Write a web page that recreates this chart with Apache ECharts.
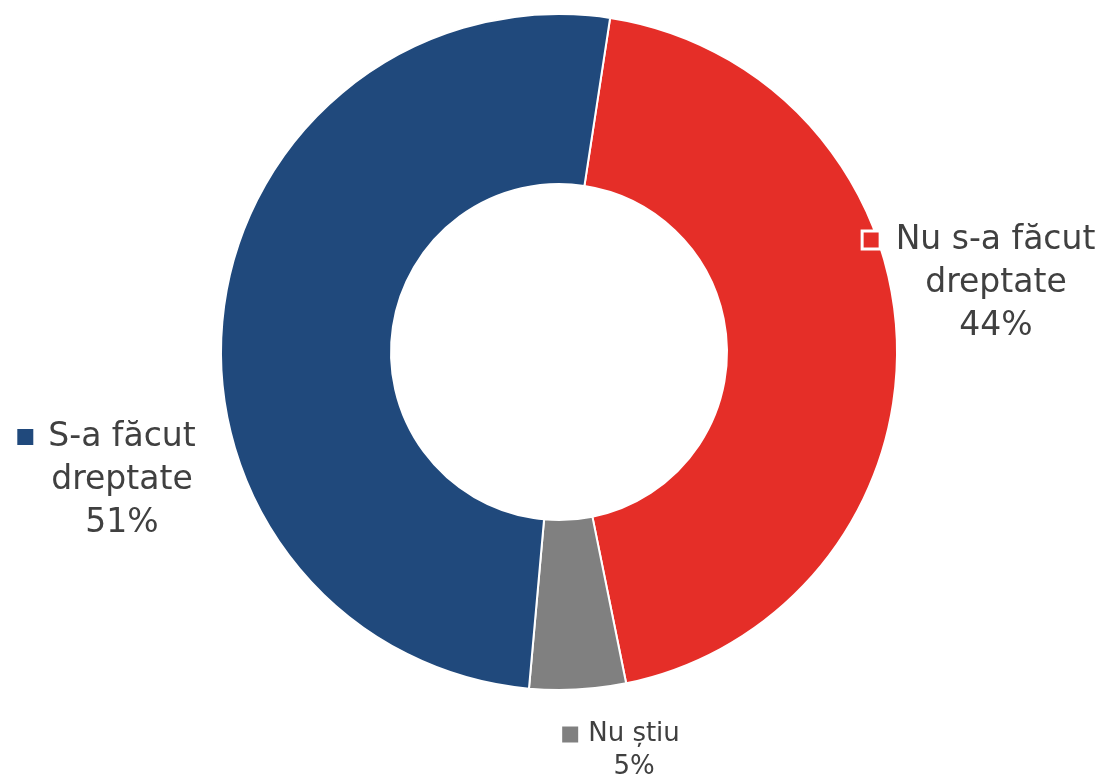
<!DOCTYPE html>
<html><head><meta charset="utf-8">
<script src="https://cdn.jsdelivr.net/npm/echarts@6/dist/echarts.min.js"></script>
<style>html,body{margin:0;padding:0;background:#fff}#c{width:1103px;height:781px}</style>
</head><body><div id="c"></div>
<script>
const categories = ['Nu s-a făcut dreptate', 'Nu știu', 'S-a făcut dreptate'];
const labelLines = [['Nu s-a făcut', 'dreptate'], ['Nu știu'], ['S-a făcut', 'dreptate']];
const values = [44.4, 4.6, 51.0];
const colors = ['#E52E28', '#808080', '#20497C'];
const labelPos = [[996, 283], [634, 751], [122, 480]];
const sizes = [33, 26, 33];
const lineH = [43, 33, 43];
const gaps = [17, 10, 15];

const chart = echarts.init(document.getElementById('c'), null, {renderer: 'canvas'});
const font = 'DejaVu Sans';
const data = categories.map((c, i) => {
  const fs = sizes[i], lh = lineH[i];
  const rich = {
    m: i === 0
      ? {width: 15, height: 15, backgroundColor: colors[i], borderColor: '#ffffff', borderWidth: 3, verticalAlign: 'middle'}
      : {width: 16, height: 16, backgroundColor: colors[i], verticalAlign: 'middle'},
    g: {width: gaps[i], height: 1},
    g2: {width: 16 + gaps[i], height: 1},
    t: {fontSize: fs, lineHeight: lh, color: '#404040', fontFamily: font}
  };
  return {
    name: c, value: values[i], itemStyle: {color: colors[i]},
    label: {rich: rich}
  };
});

chart.setOption({
  animation: false,
  series: [{
    type: 'pie',
    center: [559, 352],
    radius: [168, 338],
    startAngle: 81.3,
    clockwise: true,
    avoidLabelOverlap: false,
    itemStyle: {borderColor: '#fff', borderWidth: 2},
    label: {
      show: true,
      position: 'outside',
      align: 'center',
      formatter: p => {
        const i = p.dataIndex;
        const ls = labelLines[i];
        let s = '{m|}{g|}{t|' + ls[0] + '}{g2|}';
        for (let k = 1; k < ls.length; k++) s += '\n{t|' + ls[k] + '}';
        s += '\n{t|' + Math.round(p.value) + '%}';
        return s;
      }
    },
    labelLine: {show: false},
    labelLayout: p => ({x: labelPos[p.dataIndex][0], y: labelPos[p.dataIndex][1], align: 'center', verticalAlign: 'middle'}),
    emphasis: {disabled: true},
    data: data
  }]
});
</script></body></html>
